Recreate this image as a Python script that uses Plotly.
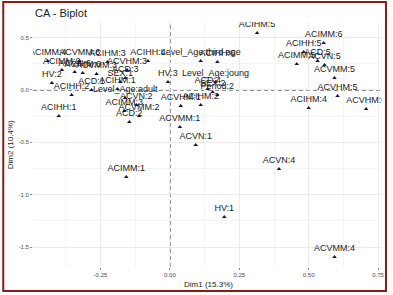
import plotly.graph_objects as go

labels = ["ACIHM:5", "ACIMM:6", "ACIHH:5", "ACD:5", "ACIMM:5", "ACVN:5", "ACVMM:5",
          "ACVHM:5", "ACIHM:4", "ACVHM:6", "Level_Age:third age", "ACIHH:6",
          "Level_Age:joung", "ACD:4", "SEX:2", "Period:2", "ACVHM:1", "ACIHM:2",
          "ACVMM:1", "ACVN:1", "ACVN:4", "HV:1", "ACVMM:4", "ACIMM:1", "HV:3",
          "ACIHH:4", "ACIHH:1", "ACIHH:2", "HV:2", "ACD:1", "ACIHM:1",
          "Level_Age:adult", "ACD:3", "SEX:1", "ACVHM:3", "ACIMM:4", "ACVMM:6",
          "ACIHM:3", "ACIMM:2", "ACVN:6", "ACIHM:6", "ACVMM:3", "ACIMM:3",
          "ACVMM:2", "ACVN:2", "ACD:2"]
dim1 = [0.314, 0.554, 0.482, 0.532, 0.457, 0.557, 0.593,
        0.604, 0.500, 0.707, 0.111, 0.171,
        0.164, 0.136, 0.154, 0.171, 0.039, 0.111,
        0.036, 0.093, 0.393, 0.196, 0.593, -0.157, -0.007,
        -0.079, -0.400, -0.354, -0.425, -0.282, -0.189,
        -0.161, -0.161, -0.179, -0.154, -0.440, -0.325,
        -0.225, -0.389, -0.343, -0.314, -0.264, -0.164,
        -0.111, -0.121, -0.146]
dim2 = [0.544, 0.449, 0.363, 0.277, 0.248, 0.239, 0.115,
        -0.057, -0.172, -0.181, 0.277, 0.267,
        0.076, 0.010, -0.019, -0.048, -0.153, -0.143,
        -0.353, -0.525, -0.755, -1.213, -1.595, -0.831, 0.076,
        0.277, -0.248, -0.048, 0.067, 0.000, 0.010,
        -0.076, 0.115, 0.076, 0.191, 0.277, 0.277,
        0.267, 0.191, 0.172, 0.162, 0.153, -0.201,
        -0.248, -0.143, -0.306]

x_ticks = [-0.25, 0.0, 0.25, 0.5, 0.75]
x_ticklabels = ["-0.25", "0.00", "0.25", "0.50", "0.75"]
y_ticks = [-1.5, -1.0, -0.5, 0.0, 0.5]
y_ticklabels = ["-1.5", "-1.0", "-0.5", "0.0", "0.5"]

W, H = 393, 295
L, R, T, B = 33, 8, 22, 28
pw, ph = W - L - R, H - T - B

def px(x):
    return (x - L) / pw

def py(y):
    return (H - B - y) / ph

fig = go.Figure()
fig.add_trace(go.Scatter(
    x=dim1, y=dim2, mode="markers+text", text=labels,
    textposition="top center",
    textfont=dict(family="Liberation Sans, Arial", size=9, color="#1a1a1a"),
    marker=dict(symbol="triangle-up", size=4, color="#14143c"),
    cliponaxis=True, hoverinfo="skip", showlegend=False))

xr = [-0.493, 0.764]
yr = [-1.691, 0.649]
fig.update_layout(
    width=W, height=H, margin=dict(l=L, r=R, t=T, b=B),
    paper_bgcolor="white", plot_bgcolor="white",
    font=dict(family="Liberation Sans, Arial"),
    xaxis=dict(range=xr, tickvals=x_ticks, ticktext=x_ticklabels,
               showgrid=True, gridcolor="#EBEBEB", gridwidth=1,
               minor=dict(dtick=0.25, tick0=0.125, showgrid=True, gridcolor="#F4F4F4", gridwidth=0.6),
               zeroline=False, showline=False, ticks="outside", ticklen=2,
               tickcolor="#888888", tickfont=dict(size=6, color="#4D4D4D")),
    yaxis=dict(range=yr, tickvals=y_ticks, ticktext=y_ticklabels,
               showgrid=True, gridcolor="#EBEBEB", gridwidth=1,
               minor=dict(dtick=0.5, tick0=0.25, showgrid=True, gridcolor="#F4F4F4", gridwidth=0.6),
               zeroline=False, showline=False, ticks="outside", ticklen=2,
               tickcolor="#888888", tickfont=dict(size=6, color="#4D4D4D")),
    shapes=[
        dict(type="line", xref="x", yref="paper", x0=0, x1=0, y0=0, y1=1,
             line=dict(color="#000000", width=1, dash="4px,3px"), layer="below"),
        dict(type="line", xref="paper", yref="y", x0=0, x1=1, y0=0, y1=0,
             line=dict(color="#000000", width=1, dash="4px,3px"), layer="below"),
        dict(type="rect", xref="paper", yref="paper",
             x0=px(3), x1=px(389), y0=py(291), y1=py(2),
             line=dict(color="#8B1A1A", width=2), fillcolor="rgba(0,0,0,0)"),
    ],
    annotations=[
        dict(text="CA - Biplot", xref="paper", yref="paper", x=px(33), y=py(13),
             xanchor="left", yanchor="middle", showarrow=False,
             font=dict(size=11, color="#1a1a1a")),
        dict(text="Dim1 (15.3%)", xref="paper", yref="paper", x=px(210), y=py(284),
             xanchor="center", yanchor="middle", showarrow=False,
             font=dict(size=8, color="#1a1a1a")),
        dict(text="Dim2 (10.4%)", xref="paper", yref="paper", x=px(10), y=py(145),
             xanchor="center", yanchor="middle", showarrow=False, textangle=-90,
             font=dict(size=8, color="#1a1a1a")),
    ],
)

fig.write_html("out.html", config={"displayModeBar": False},
               post_script="document.body.style.margin='0px';document.body.style.overflow='hidden';")
